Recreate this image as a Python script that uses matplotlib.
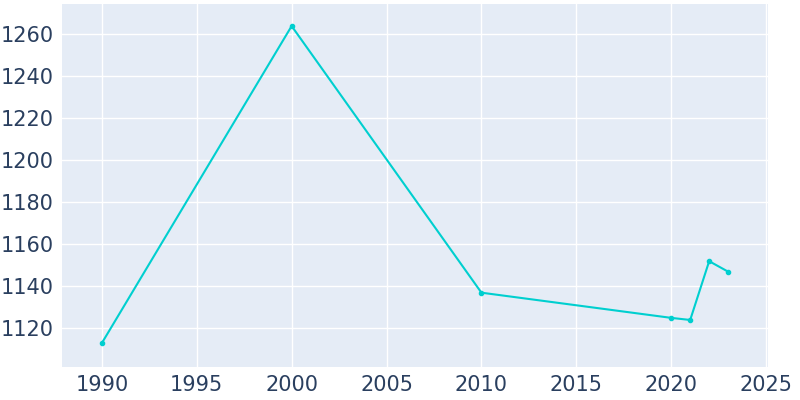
import matplotlib.pyplot as plt

# values
years = [1990, 2000, 2010, 2020, 2021, 2022, 2023]
population = [1113, 1264, 1137, 1125, 1124, 1152, 1147]
x_ticks = [1990, 1995, 2000, 2005, 2010, 2015, 2020, 2025]
y_ticks = [1120, 1140, 1160, 1180, 1200, 1220, 1240, 1260]

fig = plt.figure(figsize=(8, 4), dpi=100)
ax = fig.add_axes([0.0775, 0.0825, 0.8825, 0.9075])
ax.set_facecolor("#E5ECF6")
ax.plot(years, population, color="#00CFCF", linewidth=1.5,
        marker="o", markersize=3)

ax.set_xlim(1987.9, 2025.1)
ax.set_ylim(1101.6, 1274.5)
ax.set_xticks(x_ticks)
ax.set_yticks(y_ticks)
ax.grid(color="white", linewidth=1)
ax.set_axisbelow(True)
for s in ax.spines.values():
    s.set_visible(False)
ax.tick_params(length=0, labelsize=15, colors="#2A3F5F", pad=6)

plt.savefig("out.png", dpi=100)
